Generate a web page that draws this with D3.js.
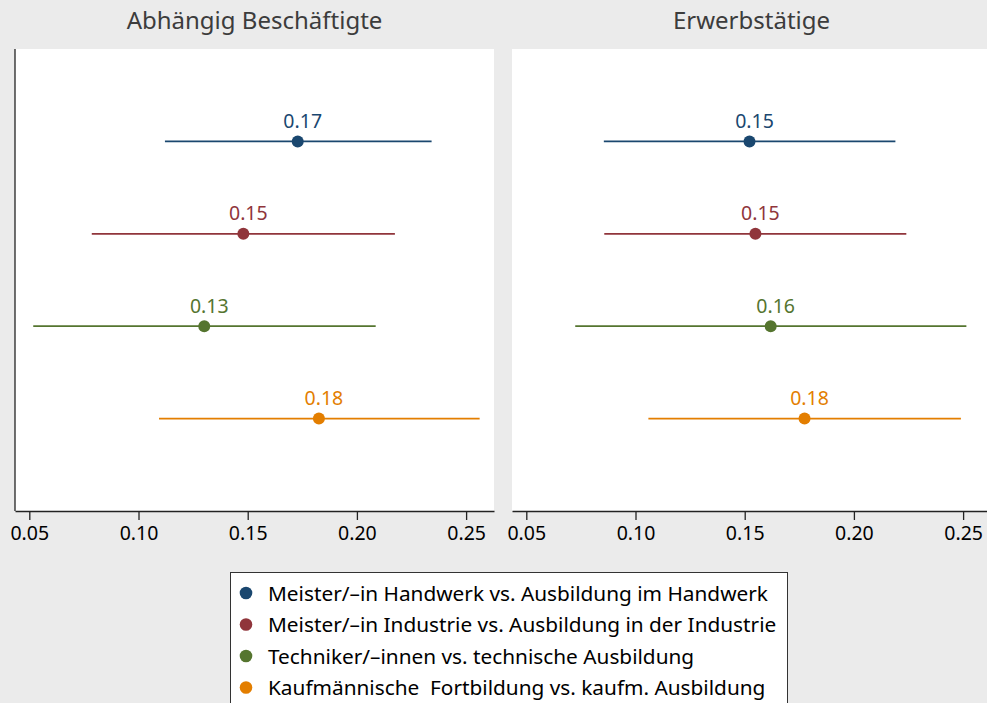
<!DOCTYPE html>
<html>
<head>
<meta charset="utf-8">
<script src="https://cdn.jsdelivr.net/npm/d3@7"></script>
<style>
body { margin: 0; background: #ebebeb; }
text { font-family: "Noto Sans", sans-serif; }
</style>
</head>
<body>
<div id="chart"></div>
<script>
const width = 987
const height = 703

// data
const panels = ["Abhängig Beschäftigte", "Erwerbstätige"]
const groups = [
    "Meister/\u2013in Handwerk vs. Ausbildung im Handwerk",
    "Meister/\u2013in Industrie vs. Ausbildung in der Industrie",
    "Techniker/\u2013innen vs. technische Ausbildung",
    "Kaufmännische  Fortbildung vs. kaufm. Ausbildung"
]
const colors = ["#1a476f", "#90353b", "#55752f", "#e37e00"]
const est_left = [0.1729, 0.1480, 0.1301, 0.1826]
const lo_left = [0.1121, 0.0786, 0.0518, 0.1094]
const hi_left = [0.2342, 0.2174, 0.2086, 0.2562]
const est_right = [0.1522, 0.1549, 0.1619, 0.1774]
const lo_right = [0.0855, 0.0857, 0.0724, 0.1059]
const hi_right = [0.2190, 0.2240, 0.2515, 0.2490]
const ticks = [0.05, 0.10, 0.15, 0.20, 0.25]

const svg = d3.select("#chart")
    .append("svg")
    .attr("width", width)
    .attr("height", height)

svg.append("rect")
    .attr("width", width)
    .attr("height", height)
    .attr("fill", "#ebebeb")

const plot_top = 49
const plot_bottom = 511
const pw = 479
const panel_x = [15, 512]
const panel_data = [
    {est: est_left, lo: lo_left, hi: hi_left},
    {est: est_right, lo: lo_right, hi: hi_right}
]

const y = d3.scaleLinear().domain([0, 5]).range([plot_top, plot_bottom])
const fmt = d3.format(".2f")

panels.forEach((title, p) => {
    const x0 = panel_x[p]
    const x = d3.scaleLinear().domain([0.04345, 0.04345 + pw / 2184]).range([x0, x0 + pw])
    const d = panel_data[p]

    svg.append("rect")
        .attr("x", x0)
        .attr("y", plot_top)
        .attr("width", pw)
        .attr("height", plot_bottom - plot_top)
        .attr("fill", "white")

    svg.append("text")
        .attr("x", x0 + pw / 2)
        .attr("y", 29)
        .attr("text-anchor", "middle")
        .attr("font-size", 24)
        .attr("fill", "#3c3c3c")
        .text(title)

    const g = svg.append("g").attr("transform", `translate(0,${plot_bottom})`)
    g.call(d3.axisBottom(x).tickValues(ticks).tickFormat(fmt).tickSizeInner(9).tickSizeOuter(0).tickPadding(6))
    g.select(".domain").attr("stroke", "#222").attr("stroke-width", 1.3)
    g.selectAll(".tick line").attr("stroke", "#222").attr("stroke-width", 1.3)
    g.selectAll(".tick text")
        .attr("font-size", 19.5)
        .attr("font-family", "Noto Sans, sans-serif")
        .attr("fill", "black")

    if (p == 0) {
        svg.append("line")
            .attr("x1", x0).attr("x2", x0)
            .attr("y1", plot_top).attr("y2", plot_bottom)
            .attr("stroke", "#222")
            .attr("stroke-width", 1.3)
    }

    const rows = svg.selectAll(null)
        .data(d.est)
        .enter()
    rows.append("line")
        .attr("x1", (_, i) => x(d.lo[i]))
        .attr("x2", (_, i) => x(d.hi[i]))
        .attr("y1", (_, i) => y(i + 1))
        .attr("y2", (_, i) => y(i + 1))
        .attr("stroke", (_, i) => colors[i])
        .attr("stroke-width", 1.8)
    rows.append("circle")
        .attr("cx", v => x(v))
        .attr("cy", (_, i) => y(i + 1))
        .attr("r", 6)
        .attr("fill", (_, i) => colors[i])
    rows.append("text")
        .attr("x", v => x(v) + 5)
        .attr("y", (_, i) => y(i + 1) - 13.5)
        .attr("text-anchor", "middle")
        .attr("font-size", 19.5)
        .attr("fill", (_, i) => colors[i])
        .text(v => fmt(v))
})

/* Legend */
svg.append("rect")
    .attr("x", 230.5)
    .attr("y", 572.5)
    .attr("width", 557)
    .attr("height", 150)
    .attr("fill", "white")
    .attr("stroke", "#333")
    .attr("stroke-width", 1)

const legend = svg.selectAll(".legend")
    .data(groups)
    .enter()
legend.append("circle")
    .attr("cx", 246)
    .attr("cy", (_, i) => 593 + 31.5 * i)
    .attr("r", 6.3)
    .attr("fill", (_, i) => colors[i])
legend.append("text")
    .attr("x", 268)
    .attr("y", (_, i) => 600.5 + 31.5 * i)
    .attr("font-size", 20.8)
    .attr("fill", "black")
    .attr("xml:space", "preserve")
    .style("white-space", "pre")
    .text(t => t)
</script>
</body>
</html>
